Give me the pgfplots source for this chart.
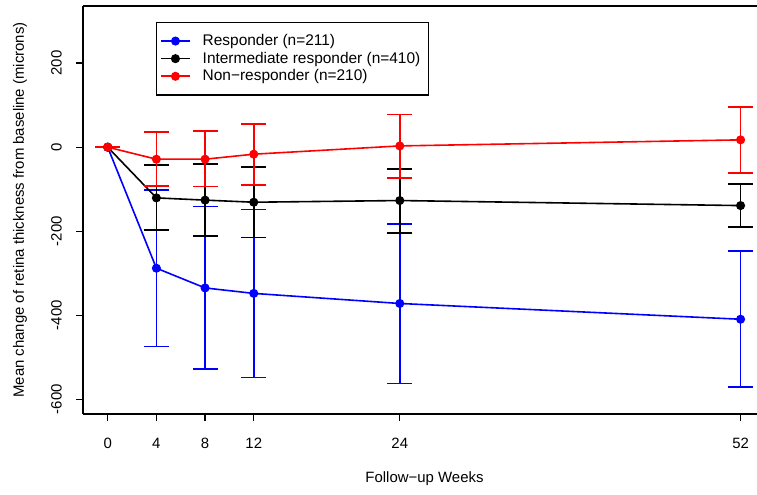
\documentclass[border=0pt]{standalone}
\usepackage{fontspec}
\setmainfont{Liberation Sans}
\usepackage{pgfplots}
\pgfplotsset{compat=1.18}
\usepackage{pgfplotstable}

% mean change, error up (ep) and error down (em)
\pgfplotstableread{
x  y      ep     em
0  0      0      0
4  -288   186    186
8  -335   194    193
12 -348   200    200
24 -372   189    190
52 -409.5 162.5  161.5
}\resp
\pgfplotstableread{
x  y      ep    em
0  0      0     0
4  -120.7 78.7  77
8  -126   85.5  85
12 -131   83.4  84
24 -127   75.3  77.8
52 -139   51    50.8
}\inter
\pgfplotstableread{
x  y      ep    em
0  0      0     0
4  -28.6  64.3  63.4
8  -28.6  67.4  65.2
12 -16.7  72.2  73.1
24 3      74.6  76
52 17.4   77.6  79.4
}\nonresp

\begin{document}
\fontsize{15}{18}\selectfont
\begin{tikzpicture}
\begin{axis}[
    at={(83bp,81bp)}, anchor=south west,
    scale only axis, width=674bp, height=408bp,
    xmin=-2.03, xmax=53.35, ymin=-635, ymax=336,
    axis x line=box, axis y line=left,
    axis line style={-, line width=1.5bp},
    xtick={0,4,8,12,24,52}, ytick={-600,-400,-200,0,200},
    xtick pos=left, ytick pos=left,
    tick align=outside, major tick length=7bp,
    tick style={black, line width=1.3bp},
    /pgf/number format/assume math mode=true,
    ticklabel style={font=\fontsize{15}{18}\selectfont},
    xticklabel style={yshift=-12bp},
    yticklabel style={rotate=90, anchor=south, yshift=9bp},
    xlabel={Follow−up Weeks},
    ylabel={Mean change of retina thickness from baseline (microns)},
    xlabel style={at={(axis description cs:0.5067,-0.1593)}, anchor=center},
    ylabel style={at={(axis description cs:-0.0934,0.5)}, anchor=center},
    label style={font=\fontsize{15}{18}\selectfont},
    legend cell align=left,
    legend style={at={(rel axis cs:0.1083,0.9615)}, anchor=north west,
        draw=black, line width=1.3bp, font=\fontsize{15.5}{18}\selectfont,
        inner xsep=3.5bp, inner ysep=10bp, row sep=0.2bp,
        /tikz/every odd column/.append style={column sep=10bp}},
    legend image code/.code={
        \draw[mark repeat=2, mark phase=2, #1] plot coordinates {(0bp,0bp) (14.5bp,0bp) (29bp,0bp)};},
    every axis plot/.append style={line width=1.6bp, mark=*, mark size=3.7bp},
    error bars/y dir=both, error bars/y explicit,
    error bars/error mark options={rotate=90, mark size=12.5bp, line width=1.6bp},
]
\addplot[blue, mark options={fill=blue},
    error bars/error bar style={blue, line width=1.6bp}]
    table[x=x, y=y, y error plus=ep, y error minus=em] {\resp};
\addplot[black, mark options={fill=black},
    error bars/error bar style={black, line width=1.6bp}]
    table[x=x, y=y, y error plus=ep, y error minus=em] {\inter};
\addplot[red, mark options={fill=red},
    error bars/error bar style={red, line width=1.6bp}]
    table[x=x, y=y, y error plus=ep, y error minus=em] {\nonresp};
\legend{Responder (n=211)\hspace*{3bp}, Intermediate responder (n=410)\hspace*{3bp}, Non−responder (n=210)\hspace*{3bp}}
\end{axis}
\pgfresetboundingbox
\path[use as bounding box] (0bp,0bp) rectangle (757bp,495bp);
\end{tikzpicture}
\end{document}
